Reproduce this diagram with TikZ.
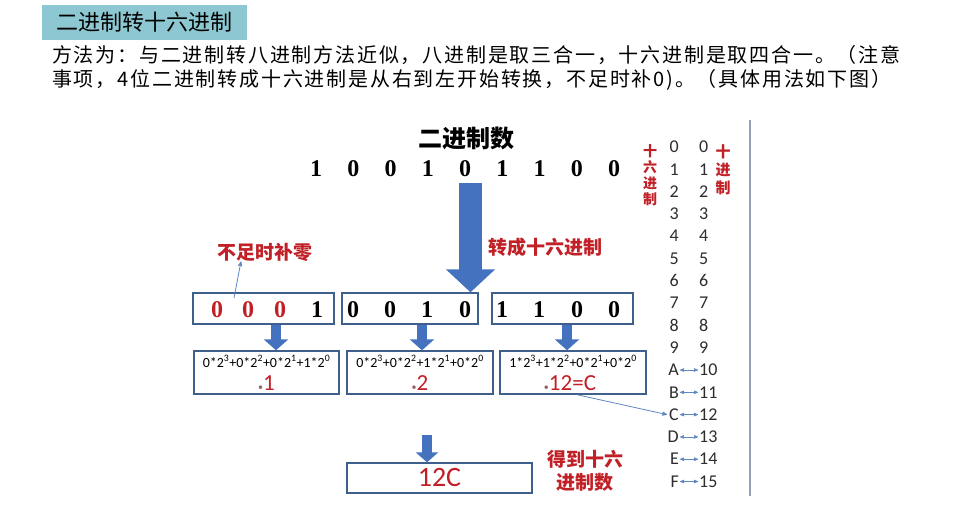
\documentclass[tikz,border=0pt]{standalone}
\usepackage{fontspec}
\setmainfont{Carlito}
\newfontfamily\cjk{Noto Sans CJK SC}
\newfontfamily\cjkwide{Noto Sans CJK SC}[LetterSpace=9]
\newfontfamily\bitfont{Liberation Serif}
\usepackage{tikz}
\usetikzlibrary{arrows,arrows.meta,positioning}

\definecolor{titlebg}{RGB}{141,200,210}
\definecolor{hired}{RGB}{192,32,38}
\definecolor{boxline}{RGB}{63,95,140}
\definecolor{arrowblue}{RGB}{68,114,190}
\definecolor{pointblue}{RGB}{95,135,195}
\definecolor{tablegray}{RGB}{45,45,45}
\definecolor{framegray}{RGB}{150,160,180}

\begin{document}
\begin{tikzpicture}
	[x=1pt,y=-1pt,>=stealth',
		bit node/.style={font=\bitfont\bfseries\fontsize{24}{24}\selectfont,inner sep=0pt},
		group node/.style={draw=boxline,line width=1.4pt,minimum height=31pt,inner sep=0pt},
		sum node/.style={draw=boxline,line width=1.4pt,minimum width=145pt,minimum height=43pt,inner sep=0pt},
		formula node/.style={font=\fontsize{14}{14}\selectfont,inner sep=0pt},
		result node/.style={font=\fontsize{23}{23}\selectfont,text=hired,inner sep=0pt},
		red node/.style={font=\cjk\bfseries\fontsize{19}{23}\selectfont,text=hired,inner sep=0pt,align=center},
		block arrow/.style={draw=arrowblue,line width=10pt,-{Triangle[width=24pt,length=11pt]}},
		thin arrow/.style={->,draw=pointblue,line width=0.8pt},
		pair arrow/.style={<->,draw=pointblue,line width=0.6pt,shorten >=1pt,shorten <=1pt},
		table node/.style={font=\fontsize{18}{18}\selectfont,text=tablegray,inner sep=0pt}]

	\useasboundingbox[fill=white] (0,0) rectangle (964,509);

	\node[fill=titlebg,minimum width=205pt,minimum height=35pt,inner sep=0pt,
		font=\cjk\fontsize{22}{22}\selectfont] (title) at (144.5,22.5) {二进制转十六进制};
	\node[anchor=west,inner sep=0pt,font=\cjkwide\fontsize{20}{20}\selectfont] (line1) at (52,55)
		{方法为：与二进制转八进制方法近似，八进制是取三合一，十六进制是取四合一。（注意};
	\node[anchor=west,inner sep=0pt,font=\cjkwide\fontsize{20}{20}\selectfont] (line2) at (52,80)
		{事项，4位二进制转成十六进制是从右到左开始转换，不足时补0)。（具体用法如下图）};

	\node[inner sep=0pt,font=\cjk\bfseries\fontsize{24}{24}\selectfont] (bintitle) at (466,138) {二进制数};
	\foreach \b [count=\i] in {1,0,0,1,0,1,1,0,0}
		\node[bit node] (t\i) at ({316+37.25*(\i-1)},169) {\b};

	\node[group node,minimum width=141pt] (g1) at (263.5,308.5) {};
	\node[group node,minimum width=136pt] (g2) at (410,308.5) {};
	\node[group node,minimum width=141pt] (g3) at (562.5,308.5) {};
	\foreach \d/\x/\c [count=\i] in {0/217/hired,0/248/hired,0/280/hired,1/317/black,
		0/353/black,0/390/black,1/427/black,0/465/black,
		1/502/black,1/539/black,0/577/black,0/614/black}
		\node[bit node,text=\c] (b\i) at (\x,310) {\d};

	\node[red node] (pad) at (265,252) {不足时补零};
	\node[red node] (tohex) at (545,247) {转成十六进制};

	\coordinate (bigtop) at (470.5,183);
	\draw[draw=arrowblue,line width=23pt,-{Triangle[width=48pt,length=23pt]}] (bigtop) -- (bigtop |- g2.north);

	\coordinate (padfoot) at (234,298);
	\draw[thin arrow] (padfoot) -- ([xshift=-24pt]pad.south);

	\node[sum node] (rA) at (266.5,372.5) {};
	\node[sum node,minimum width=146pt] (rB) at (420,372.5) {};
	\node[sum node,minimum width=146pt] (rC) at (573,372.5) {};
	\node[formula node,below=5pt of rA.north] (fA) {0*2\textsuperscript{3}+0*2\textsuperscript{2}+0*2\textsuperscript{1}+1*2\textsuperscript{0}};
	\node[formula node,below=5pt of rB.north] (fB) {0*2\textsuperscript{3}+0*2\textsuperscript{2}+1*2\textsuperscript{1}+0*2\textsuperscript{0}};
	\node[formula node,below=5pt of rC.north] (fC) {1*2\textsuperscript{3}+1*2\textsuperscript{2}+0*2\textsuperscript{1}+0*2\textsuperscript{0}};
	\node[result node,above=4pt of rA.south] (vA) {{\fontsize{10}{10}\selectfont\textcolor{gray!70!hired}{•}}1};
	\node[result node,above=4pt of rB.south] (vB) {{\fontsize{10}{10}\selectfont\textcolor{gray!70!hired}{•}}2};
	\node[result node,above=4pt of rC.south,xshift=-3pt] (vC) {{\fontsize{10}{10}\selectfont\textcolor{gray!70!hired}{•}}12=C};

	\draw[block arrow] (g1.south -| 276,0) -- (rA.north -| 276,0);
	\draw[block arrow] (g2.south -| 422,0) -- (rB.north -| 422,0);
	\draw[block arrow] (g3.south -| 567,0) -- (rC.north -| 567,0);

	\node[draw=boxline,line width=1.4pt,minimum width=185pt,minimum height=30pt,inner sep=0pt,
		font=\fontsize{28}{28}\selectfont,text=hired] (hexsum) at (439.5,478) {12C};
	\coordinate (sumtop) at (427,435);
	\draw[block arrow,-{Triangle[width=22pt,length=10pt]}] (sumtop) -- (sumtop |- hexsum.north);
	\node[red node] (gethex) at (585,471) {得到十六\\进制数};

	\node[red node,font=\cjk\bfseries\fontsize{14}{16}\selectfont] (hexlbl) at (650,175) {十\\六\\进\\制};
	\node[red node,font=\cjk\bfseries\fontsize{15}{18}\selectfont] (declbl) at (723,170) {十\\进\\制};

	\foreach \h [count=\i from 0] in {0,1,2,3,4,5,6,7,8,9,A,B,C,D,E,F} {
		\node[table node,anchor=east] (h\i) at (679,{147+22.3*\i}) {\h};
		\node[table node,anchor=west] (d\i) at (699,{147+22.3*\i}) {\i};
		\ifnum\i>9 \draw[pair arrow] (h\i) -- (d\i); \fi
	}

	\draw[thin arrow] ([xshift=4pt]rC.south) -- ([xshift=-2pt]h12.west);

	\draw[draw=framegray,line width=1.2pt] (750,120) -- (750,496);

\end{tikzpicture}
\end{document}
